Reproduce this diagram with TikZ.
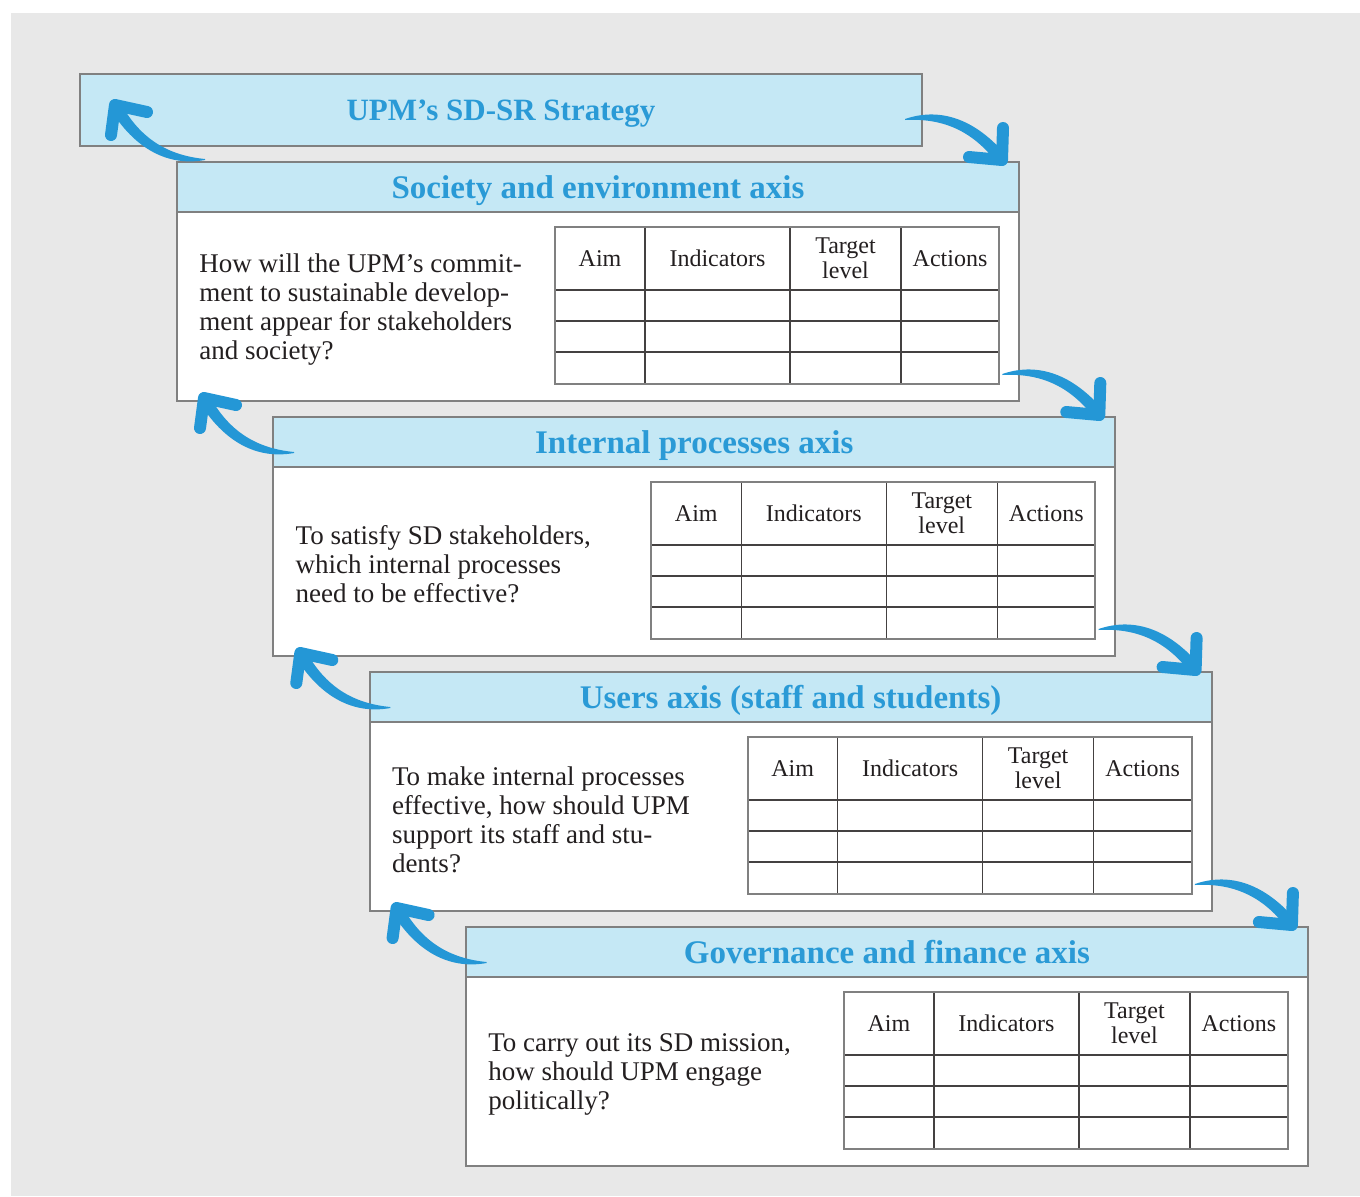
\documentclass[tikz,border=0pt]{standalone}
\usepackage{fontspec}
\setmainfont{Liberation Serif}
\usetikzlibrary{calc}
\definecolor{bggray}{RGB}{232,232,232}
\definecolor{linegray}{RGB}{128,128,128}
\definecolor{headblue}{RGB}{197,232,245}
\definecolor{titleblue}{RGB}{42,154,214}
\definecolor{arrowblue}{RGB}{36,151,214}
\definecolor{inkdark}{RGB}{35,31,32}
\begin{document}
\begin{tikzpicture}[x=0.5pt,y=-0.5pt,
    headbox/.style={draw=linegray,line width=1pt,fill=headblue,text=titleblue,
      font=\bfseries\fontsize{16.5}{18}\selectfont,minimum width=421pt,minimum height=25pt,
      text depth=0pt,inner sep=0pt,anchor=north west},
    bodybox/.style={draw=linegray,line width=1pt,fill=white,minimum width=421pt,
      minimum height=94.5pt,inner sep=0pt,anchor=north west},
    question/.style={text=inkdark,font=\fontsize{13.5}{14.5}\selectfont,align=left,
      inner sep=0pt,anchor=west,yshift=-1.5pt},
    cell/.style={text=inkdark,font=\fontsize{12}{12.5}\selectfont,align=center,inner sep=0pt},
    gridline/.style={draw=inkdark!85,line width=0.7pt},
    gridframe/.style={draw=linegray,line width=1pt},
    swoosh right/.pic={
      \fill[arrowblue] (-97,-41) .. controls (-65,-52) and (-30,-44) .. (3,-6)
        -- (-5,3) .. controls (-30,-30) and (-60,-42) .. (-97,-40) -- cycle;
      \draw[arrowblue,line width=6pt,line cap=round,line join=round] (1,-32) -- (0,0) -- (-33,-3);
    },
    swoosh left/.pic={
      \fill[arrowblue] (90,55) .. controls (56.6,61) and (23.2,47.9) .. (-3.9,5.5)
        -- (5.4,-2.3) .. controls (25.2,34.1) and (53.1,50.4) .. (90,54) -- cycle;
      \draw[arrowblue,line width=6pt,line cap=round,line join=round] (-4,30) -- (0,0) -- (32,7);
    }]
  \useasboundingbox (0,0) rectangle (1360,1196);
  \fill[bggray] (11,13) rectangle (1360,1196);
  %\draw[step=50,lightgray,ultra thin] (0,0) grid (1360,1196);

  \node[headbox,minimum height=36pt,font=\bfseries\fontsize{15.5}{17}\selectfont] (upm) at (79,73) {UPM’s SD-SR Strategy};

  \foreach \ttl/\qst [count=\k] in {
      {Society and environment axis}/{How will the UPM’s commit-\\ment to sustainable develop-\\ment appear for stakeholders\\and society?},
      {Internal processes axis}/{To satisfy SD stakeholders,\\which internal processes\\need to be effective?},
      {Users axis (staff and students)}/{To make internal processes\\effective, how should UPM\\support its staff and stu-\\dents?},
      {Governance and finance axis}/{To carry out its SD mission,\\how should UPM engage\\politically?}}{
    \node[bodybox] (body\k) at ({176+96.3*(\k-1)},{211+255*(\k-1)}) {};
    \node[headbox] (head\k) at ({176+96.3*(\k-1)},{161+255*(\k-1)}) {\ttl};
    \node[question] (qst\k) at ($(body\k.west)+(23,0)$) {\qst};
    % empty table
    \coordinate (tab\k) at ($(body\k.north west)+(379,16)$);
    \foreach \c in {90,235,346} \draw[gridline] ($(tab\k)+(\c,0)$) -- ++(0,157);
    \foreach \r in {63,94,125} \draw[gridline] ($(tab\k)+(0,\r)$) -- ++(444,0);
    \draw[gridframe] (tab\k) rectangle ++(444,157);
    \foreach \c/\lbl [count=\j] in {45/Aim,162.5/Indicators,290.5/{Target\\level},395/Actions}
      \node[cell] (hd\k-\j) at ($(tab\k)+(\c,31.5)$) {\lbl};
  }

  \pic at ($(head1.north east)+(-18,-1)$) {swoosh right};
  \foreach \k in {2,3,4} \pic at ($(head\k.north east)+(-17,-1)$) {swoosh right};
  \pic at ($(upm.south west)+(36,-42)$) {swoosh left};
  \foreach \k in {1,2,3} \pic at ($(body\k.south west)+(28,-4)$) {swoosh left};
\end{tikzpicture}
\end{document}
